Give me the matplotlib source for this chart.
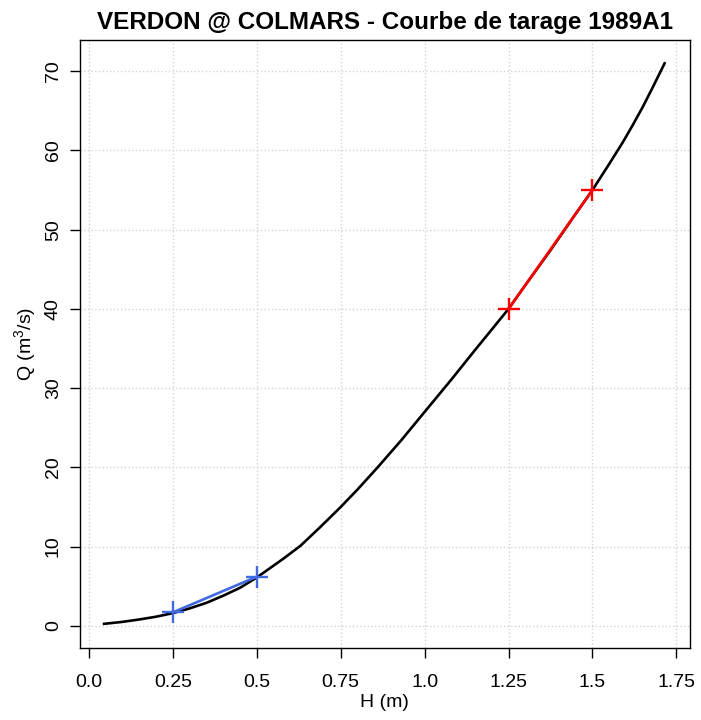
import matplotlib
matplotlib.use('Agg')
import matplotlib.pyplot as plt

# courbe de tarage (hauteur H en m, debit Q en m3/s)
h_curve = [0.045, 0.10, 0.15, 0.20, 0.25, 0.30, 0.35, 0.40, 0.45, 0.50,
           0.58, 0.63, 0.69, 0.75, 0.80, 0.86, 0.93, 1.00, 1.08, 1.15,
           1.25, 1.30, 1.375, 1.45, 1.50, 1.55, 1.59, 1.62, 1.65, 1.68,
           1.715]
q_curve = [0.25, 0.5, 0.8, 1.15, 1.6, 2.2, 2.9, 3.8, 4.8, 6.1,
           8.5, 10.1, 12.5, 15.0, 17.2, 20.0, 23.4, 27.0, 31.1, 34.8,
           40.0, 43.0, 47.4, 52.0, 55.0, 58.3, 61.0, 63.2, 65.5, 68.0,
           71.0]

# segments bas et haut
h_low = [0.25, 0.5]
q_low = [1.7, 6.2]
h_high = [1.25, 1.5]
q_high = [40.0, 55.0]

x_ticks = [0.0, 0.25, 0.5, 0.75, 1.0, 1.25, 1.5, 1.75]
x_labels = ['0.0', '0.25', '0.5', '0.75', '1.0', '1.25', '1.5', '1.75']
y_ticks = [0, 10, 20, 30, 40, 50, 60, 70]

plt.rcParams['font.family'] = ['Liberation Sans', 'DejaVu Sans']
plt.rcParams['mathtext.fontset'] = 'custom'
plt.rcParams['mathtext.rm'] = 'Liberation Sans'

fig = plt.figure(figsize=(7.01, 7.2), dpi=100)
ax = fig.add_axes([0.114, 0.1, 0.870, 0.844])

ax.plot(h_curve, q_curve, '-', color='black', linewidth=1.9, zorder=3)
ax.plot(h_low, q_low, '-+', color='#4169E1', linewidth=1.9,
        markersize=16, markeredgewidth=1.7, zorder=4)
ax.plot(h_high, q_high, '-+', color='#FF0000', linewidth=1.9,
        markersize=16, markeredgewidth=1.7, zorder=4)

ax.set_xlim(-0.027, 1.79)
ax.set_ylim(-2.8, 73.9)
ax.set_xticks(x_ticks)
ax.set_xticklabels(x_labels)
ax.set_yticks(y_ticks)
for lab in ax.get_yticklabels():
    lab.set_rotation(90)
    lab.set_va('center')

ax.grid(True, color='#D3D3D3', linestyle=':', linewidth=1.0)
ax.set_axisbelow(True)
ax.tick_params(direction='out', length=7, width=1, labelsize=14)
ax.tick_params(axis='x', pad=12)
ax.tick_params(axis='y', pad=6)
for s in ax.spines.values():
    s.set_linewidth(1.0)

ax.set_xlabel('H (m)', fontsize=14, labelpad=2)
ax.set_ylabel(r'Q (m$\mathregular{^3}$/s)', fontsize=14, labelpad=5)
ax.set_title('VERDON @ COLMARS - Courbe de tarage 1989A1',
             fontsize=17.5, fontweight='bold', pad=8.5)

fig.savefig('out.png', dpi=100)
